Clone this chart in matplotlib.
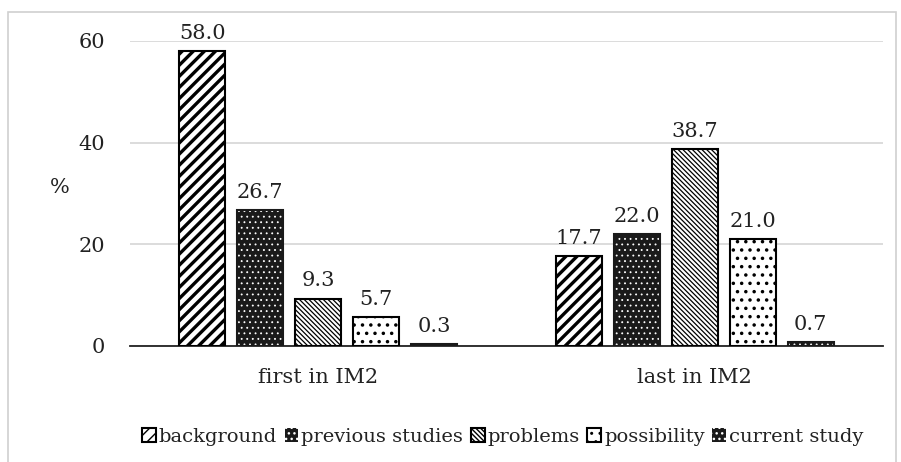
import numpy as np
import matplotlib.pyplot as plt
from matplotlib.patches import Rectangle

plt.rcParams['font.family'] = ['DejaVu Serif']

groups = ["first in IM2", "last in IM2"]
parts = ["background", "previous studies", "problems", "possibility", "current study"]
background = [58.0, 17.7]
previous_studies = [26.7, 22.0]
problems = [9.3, 38.7]
possibility = [5.7, 21.0]
current_study = [0.3, 0.7]
series = [background, previous_studies, problems, possibility, current_study]

# face colour, hatch, hatch colour, hatch linewidth
styles = [
    ("white", "///", "black", 2.4),
    ("#1a1a1a", "...", "white", 0.6),
    ("white", "\\" * 7, "black", 0.9),
    ("white", "..", "black", 1.3),
    ("#1a1a1a", "...", "white", 0.6),
]

fig = plt.figure(figsize=(9.01, 4.62), dpi=100)
ax = fig.add_axes([0.1443, 0.2511, 0.8357, 0.6602])

x = np.arange(len(groups))
width = 0.122
step = 0.154
handles = []
for i, (vals, (fc, hatch, hc, hlw)) in enumerate(zip(series, styles)):
    pos = x + (i - 2) * step
    with plt.rc_context({'hatch.linewidth': hlw}):
        if hc == "black":
            bars = ax.bar(pos, vals, width, facecolor=fc, edgecolor="black",
                          hatch=hatch, linewidth=1.5, zorder=3)
            handles.append(bars)
        else:
            # white hatch on dark fill, outline drawn separately
            hb = ax.bar(pos, vals, width, facecolor=fc, edgecolor=hc,
                        hatch=hatch, linewidth=0, zorder=3)
            handles.append(hb)
            bars = ax.bar(pos, vals, width, facecolor="none",
                          edgecolor="#1a1a1a", linewidth=1.5, zorder=4)
    ax.bar_label(bars, fmt="%.1f", padding=6, fontsize=15, color="#222222")

ax.set_ylim(0, 60)
ax.set_xlim(-0.5, 1.5)
ax.set_yticks([0, 20, 40, 60])
ax.set_xticks(x)
ax.set_xticklabels(groups)
ax.tick_params(axis="both", length=0, labelsize=15, colors="#222222")
ax.tick_params(axis="y", pad=18)
ax.tick_params(axis="x", pad=16)
ax.yaxis.grid(True, color="#d9d9d9", linewidth=1.3, zorder=0)
ax.set_axisbelow(True)
for side in ["top", "right", "left"]:
    ax.spines[side].set_visible(False)
ax.spines["bottom"].set_color("#222222")
ax.spines["bottom"].set_linewidth(1.3)
ax.set_ylabel("%", rotation=0, fontsize=15, color="#222222")
ax.yaxis.set_label_coords(-0.093, 0.49)

fig.legend(handles, parts, loc="center", bbox_to_anchor=(0.558, 0.054),
           ncol=5, frameon=False, fontsize=14, handlelength=0.7,
           handleheight=0.7, handletextpad=0.15, columnspacing=0.4,
           labelcolor="#222222")

# light frame around the chart
fig.patches.append(Rectangle((8 / 901, -0.05), 888 / 901, 1.05 - 12 / 462,
                             transform=fig.transFigure, fill=False,
                             edgecolor="#d0d0d0", linewidth=1.2))

fig.savefig("out.png", dpi=100)
